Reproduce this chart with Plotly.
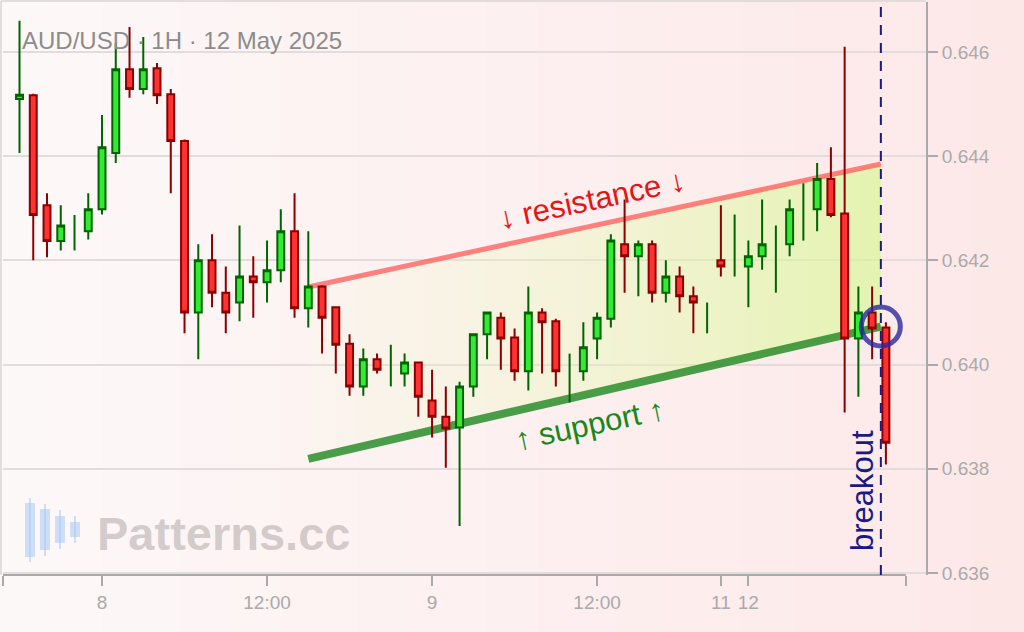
import plotly.graph_objects as go

# ---------------- data ----------------
times = [
    "2025-05-07 18:00", "2025-05-07 19:00", "2025-05-07 20:00", "2025-05-07 21:00",
    "2025-05-07 22:00", "2025-05-07 23:00",
    "2025-05-08 00:00", "2025-05-08 01:00", "2025-05-08 02:00", "2025-05-08 03:00",
    "2025-05-08 04:00", "2025-05-08 05:00", "2025-05-08 06:00", "2025-05-08 07:00",
    "2025-05-08 08:00", "2025-05-08 09:00", "2025-05-08 10:00", "2025-05-08 11:00",
    "2025-05-08 12:00", "2025-05-08 13:00", "2025-05-08 14:00", "2025-05-08 15:00",
    "2025-05-08 16:00", "2025-05-08 17:00", "2025-05-08 18:00", "2025-05-08 19:00",
    "2025-05-08 20:00", "2025-05-08 21:00", "2025-05-08 22:00", "2025-05-08 23:00",
    "2025-05-09 00:00", "2025-05-09 01:00", "2025-05-09 02:00", "2025-05-09 03:00",
    "2025-05-09 04:00", "2025-05-09 05:00", "2025-05-09 06:00", "2025-05-09 07:00",
    "2025-05-09 08:00", "2025-05-09 09:00", "2025-05-09 10:00", "2025-05-09 11:00",
    "2025-05-09 12:00", "2025-05-09 13:00", "2025-05-09 14:00", "2025-05-09 15:00",
    "2025-05-09 16:00", "2025-05-09 17:00", "2025-05-09 18:00", "2025-05-09 19:00",
    "2025-05-09 20:00",
    "2025-05-11 22:00", "2025-05-11 23:00",
    "2025-05-12 00:00", "2025-05-12 01:00", "2025-05-12 02:00", "2025-05-12 03:00",
    "2025-05-12 04:00", "2025-05-12 05:00", "2025-05-12 06:00", "2025-05-12 07:00",
    "2025-05-12 08:00", "2025-05-12 09:00", "2025-05-12 10:00",
]
opens = [
    0.64510, 0.64517, 0.64306, 0.64237, 0.64250, 0.64256,
    0.64298, 0.64406, 0.64567, 0.64529, 0.64569, 0.64519, 0.64429, 0.64100,
    0.64200, 0.64138, 0.64119, 0.64169, 0.64158, 0.64181, 0.64256, 0.64108,
    0.64150, 0.64110, 0.64040, 0.63958, 0.64010, 0.63995, 0.63983, 0.64004,
    0.63931, 0.63900, 0.63879, 0.63958, 0.64058, 0.64090, 0.64052, 0.63987,
    0.64100, 0.64083, 0.63970, 0.63987, 0.64050, 0.64088, 0.64231, 0.64208,
    0.64231, 0.64138, 0.64169, 0.64131, 0.64090,
    0.64200, 0.64220,
    0.64188, 0.64208, 0.64200, 0.64231, 0.64300, 0.64298, 0.64356, 0.64290,
    0.64050, 0.64100, 0.64071,
]
highs = [
    0.64660, 0.64520, 0.64329, 0.64306, 0.64287, 0.64329,
    0.64479, 0.64617, 0.64648, 0.64629, 0.64579, 0.64529, 0.64432, 0.64231,
    0.64250, 0.64188, 0.64267, 0.64208, 0.64238, 0.64298, 0.64329, 0.64256,
    0.64152, 0.64112, 0.64058, 0.64031, 0.64021, 0.64038, 0.64021, 0.64006,
    0.63990, 0.63958, 0.63967, 0.64060, 0.64102, 0.64100, 0.64069, 0.64150,
    0.64108, 0.64088, 0.64021, 0.64081, 0.64100, 0.64250, 0.64317, 0.64238,
    0.64238, 0.64200, 0.64188, 0.64150, 0.64119,
    0.64306, 0.64288,
    0.64238, 0.64317, 0.64267, 0.64317, 0.64348, 0.64387, 0.64417, 0.64610,
    0.64150, 0.64150, 0.64081,
]
lows = [
    0.64406, 0.64200, 0.64206, 0.64219, 0.64219, 0.64240,
    0.64288, 0.64387, 0.64512, 0.64519, 0.64500, 0.64329, 0.64060, 0.64010,
    0.64110, 0.64060, 0.64083, 0.64090, 0.64119, 0.64158, 0.64090, 0.64071,
    0.64021, 0.63983, 0.63940, 0.63940, 0.63983, 0.63958, 0.63958, 0.63900,
    0.63860, 0.63802, 0.63690, 0.63938, 0.64010, 0.63990, 0.63969, 0.63950,
    0.63983, 0.63958, 0.63927, 0.63969, 0.64010, 0.64071, 0.64138, 0.64131,
    0.64119, 0.64119, 0.64100, 0.64060, 0.64060,
    0.64169, 0.64169,
    0.64110, 0.64182, 0.64138, 0.64208, 0.64238, 0.64256, 0.64283, 0.63908,
    0.63938, 0.64010, 0.63808,
]
closes = [
    0.64518, 0.64287, 0.64237, 0.64267, 0.64252, 0.64298,
    0.64417, 0.64567, 0.64529, 0.64567, 0.64517, 0.64429, 0.64100, 0.64200,
    0.64138, 0.64100, 0.64169, 0.64158, 0.64181, 0.64256, 0.64108, 0.64150,
    0.64090, 0.64038, 0.63958, 0.64010, 0.63990, 0.63997, 0.64004, 0.63938,
    0.63900, 0.63877, 0.63958, 0.64058, 0.64100, 0.64050, 0.63987, 0.64100,
    0.64081, 0.63987, 0.63972, 0.64033, 0.64090, 0.64238, 0.64208, 0.64231,
    0.64138, 0.64169, 0.64131, 0.64119, 0.64092,
    0.64188, 0.64222,
    0.64208, 0.64231, 0.64202, 0.64298, 0.64302, 0.64356, 0.64287, 0.64050,
    0.64100, 0.64069, 0.63850,
]

channel_x = ["2025-05-08 15:00", "2025-05-12 09:38"]
resistance_y = [0.64149, 0.64385]
support_y = [0.63819, 0.64073]
breakout_time = "2025-05-12 09:38"
breakout_price = 0.64073

resistance_label_pos = ("2025-05-09 11:38", 0.64316)
support_label_pos = ("2025-05-09 11:29", 0.63884)
breakout_label_y = 0.63759

x_range = ["2025-05-07 16:48", "2025-05-12 12:55"]
x_break = ["2025-05-09 21:00", "2025-05-11 22:00"]
x_tickvals = ["2025-05-07 16:49", "2025-05-08 00:00", "2025-05-08 12:00", "2025-05-09 00:00",
              "2025-05-09 12:00", "2025-05-11 22:00", "2025-05-12 00:00", "2025-05-12 11:27"]
x_ticktext = ["", "8", "12:00", "9", "12:00", "11", "12", ""]
x_line_end = "2025-05-12 11:27"

y_range = [0.63596, 0.64696]
y_tickvals = [0.636, 0.638, 0.640, 0.642, 0.644, 0.646]
y_ticktext = ["0.636", "0.638", "0.640", "0.642", "0.644", "0.646"]

title_text = "AUD/USD · 1H · 12 May 2025"

# ---------------- styling helpers ----------------
W, H = 1024, 632
L, R, T, B = 3, 926, 2, 575


def pxx(px):
    return (px - L) / (R - L)


def pxy(py):
    return (B - py) / (B - T)


FONT = "Liberation Sans, Arial, Helvetica, sans-serif"
GRAY = "rgb(170,170,170)"
NAVY = "rgb(25,25,135)"

doji = [abs(c - o) < 0.00004 for o, c in zip(opens, closes)]
body_idx = [i for i, d in enumerate(doji) if not d]
doji_idx = [i for i, d in enumerate(doji) if d]

fig = go.Figure()

# channel fill and boundary lines (main subplot, underneath the candles)
fig.add_trace(go.Scatter(
    x=[channel_x[0], channel_x[1], channel_x[1], channel_x[0]],
    y=[resistance_y[0], resistance_y[1], support_y[1], support_y[0]],
    mode="none", fill="toself",
    fillgradient=dict(type="horizontal",
                      colorscale=[[0, "rgba(240,250,200,0.10)"],
                                  [1, "rgba(211,250,137,0.60)"]]),
    hoverinfo="skip", xaxis="x", yaxis="y",
))
fig.add_trace(go.Scatter(
    x=channel_x, y=resistance_y, mode="lines",
    line=dict(color="rgba(255,90,90,0.75)", width=5),
    hoverinfo="skip", xaxis="x", yaxis="y",
))
fig.add_trace(go.Scatter(
    x=channel_x, y=support_y, mode="lines",
    line=dict(color="rgba(30,135,30,0.8)", width=8),
    hoverinfo="skip", xaxis="x", yaxis="y",
))

# candles (overlay subplot so they sit above the channel)
fig.add_trace(go.Candlestick(
    x=[times[i] for i in body_idx],
    open=[opens[i] for i in body_idx],
    high=[highs[i] for i in body_idx],
    low=[lows[i] for i in body_idx],
    close=[closes[i] for i in body_idx],
    increasing=dict(fillcolor="rgb(50,235,50)", line=dict(color="rgb(0,100,0)", width=2)),
    decreasing=dict(fillcolor="rgb(255,50,50)", line=dict(color="rgb(139,0,0)", width=2)),
    xaxis="x2", yaxis="y2",
))
fig.add_trace(go.Ohlc(
    x=[times[i] for i in doji_idx],
    open=[opens[i] for i in doji_idx],
    high=[highs[i] for i in doji_idx],
    low=[lows[i] for i in doji_idx],
    close=[closes[i] for i in doji_idx],
    tickwidth=0,
    increasing=dict(line=dict(color="rgb(0,100,0)", width=2)),
    decreasing=dict(line=dict(color="rgb(0,100,0)", width=2)),
    xaxis="x2", yaxis="y2",
))
fig.add_trace(go.Scatter(
    x=[breakout_time], y=[breakout_price], mode="markers",
    marker=dict(symbol="circle-open", size=39, color="rgba(40,40,160,0.8)",
                line=dict(color="rgba(40,40,160,0.8)", width=5)),
    hoverinfo="skip", xaxis="x2", yaxis="y2",
))

shapes = []
# background gradient
n = 40
for k in range(n):
    t = k / (n - 1)
    g = round(248 - 16 * t)
    x0 = k * W / n
    x1 = (k + 1) * W / n + 1
    shapes.append(dict(type="rect", xref="paper", yref="paper",
                       x0=pxx(x0), x1=pxx(x1), y0=pxy(H), y1=pxy(0), line=dict(width=0),
                       fillcolor=f"rgb(253,{g},{g})", layer="below"))
# faint frame (top and left)
FRAME = "rgb(218,212,212)"
shapes.append(dict(type="line", xref="paper", yref="paper", x0=pxx(1), x1=pxx(1),
                   y0=0, y1=pxy(1), line=dict(color=FRAME, width=1.5), layer="below"))
shapes.append(dict(type="line", xref="paper", yref="paper", x0=pxx(1), x1=1,
                   y0=pxy(1), y1=pxy(1), line=dict(color=FRAME, width=1.5), layer="below"))
# x axis line
shapes.append(dict(type="line", xref="x", yref="paper", x0=x_range[0], x1=x_line_end,
                   y0=0, y1=0, line=dict(color=GRAY, width=2), layer="above"))
# breakout dashed line
shapes.append(dict(type="line", xref="x", yref="paper", x0=breakout_time, x1=breakout_time,
                   y0=0, y1=1, line=dict(color=NAVY, width=2, dash="10px,8px"), layer="above"))
# watermark icon
icon = [(30, 498, 562, 503, 557), (45, 504, 556, 509, 550), (60, 510, 549, 516, 543), (75, 516, 543, 522, 537)]
for cx, wt, wb, bt, bb in icon:
    shapes.append(dict(type="line", xref="paper", yref="paper", x0=pxx(cx), x1=pxx(cx),
                       y0=pxy(wb), y1=pxy(wt), line=dict(color="rgba(170,200,245,0.55)", width=2),
                       layer="below"))
    shapes.append(dict(type="rect", xref="paper", yref="paper", x0=pxx(cx - 5), x1=pxx(cx + 5),
                       y0=pxy(bb), y1=pxy(bt), line=dict(width=0),
                       fillcolor="rgba(170,200,245,0.55)", layer="below"))

annotations = [
    dict(text="↓ resistance ↓", x=resistance_label_pos[0], y=resistance_label_pos[1],
         xref="x", yref="y", showarrow=False, textangle=-12,
         font=dict(size=31, color="rgb(230,20,20)", family=FONT), xanchor="center", yanchor="middle"),
    dict(text="↑ support ↑", x=support_label_pos[0], y=support_label_pos[1],
         xref="x", yref="y", showarrow=False, textangle=-12,
         font=dict(size=31, color="rgb(25,135,25)", family=FONT), xanchor="center", yanchor="middle"),
    dict(text="breakout", x=breakout_time, y=breakout_label_y, xref="x", yref="y",
         showarrow=False, textangle=-90, xshift=-19,
         font=dict(size=31, color=NAVY, family=FONT), xanchor="center", yanchor="middle"),
    dict(text="<b>Patterns.cc</b>", x=pxx(95), y=pxy(533), xref="paper", yref="paper",
         showarrow=False, xanchor="left", yanchor="middle",
         font=dict(size=47, color="rgba(160,150,150,0.45)", family=FONT)),
]

xaxis_common = dict(
    type="date", range=x_range, rangebreaks=[dict(bounds=x_break)],
    rangeslider=dict(visible=False),
)
hidden = dict(showticklabels=False, ticks="", showgrid=False, showline=False, zeroline=False)

fig.update_layout(
    width=W, height=H,
    margin=dict(l=L, r=W - R, t=T, b=H - B),
    paper_bgcolor="rgb(252,242,242)",
    plot_bgcolor="rgba(0,0,0,0)",
    showlegend=False,
    boxgap=0.28,
    font=dict(family=FONT, size=19, color=GRAY),
    title=dict(text=title_text, xref="paper", x=pxx(22), xanchor="left",
               yref="container", y=1 - 41 / H, yanchor="middle",
               font=dict(size=24, color="rgb(140,140,140)", family=FONT)),
    xaxis=dict(**xaxis_common, tickmode="array", tickvals=x_tickvals, ticktext=x_ticktext,
               ticks="outside", ticklen=10, tickwidth=2, tickcolor=GRAY,
               showgrid=False, showline=False, zeroline=False,
               tickfont=dict(size=19, color=GRAY)),
    xaxis2=dict(**xaxis_common, **hidden, overlaying="x", anchor="y2"),
    yaxis=dict(side="right", range=y_range, tickmode="array", tickvals=y_tickvals,
               ticktext=y_ticktext, showline=True, linecolor=GRAY, linewidth=2,
               ticks="outside", ticklen=10, tickwidth=2, tickcolor=GRAY,
               showgrid=True, gridcolor="rgb(228,220,220)", gridwidth=1.5,
               zeroline=False, tickfont=dict(size=19, color=GRAY)),
    yaxis2=dict(range=y_range, **hidden, overlaying="y", anchor="x2", side="right"),
    shapes=shapes,
    annotations=annotations,
)

fig.write_html("out.html", config={"displayModeBar": False},
               post_script="document.body.style.margin='0';document.body.style.overflow='hidden';")
